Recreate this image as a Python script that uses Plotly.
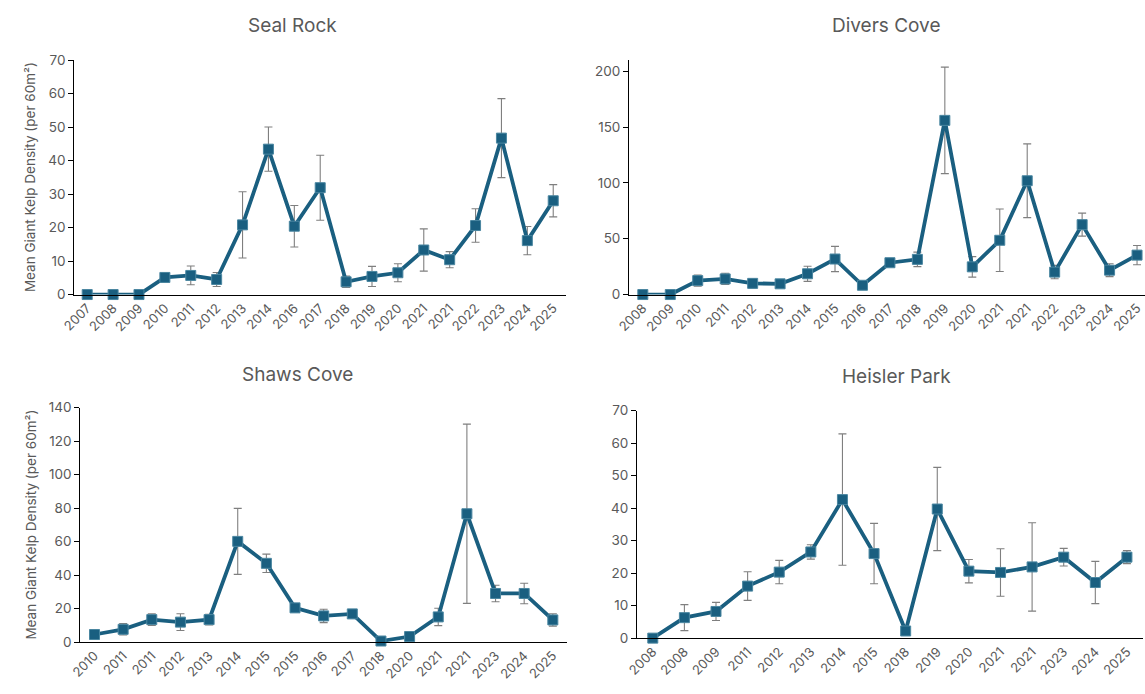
import plotly.graph_objects as go

# ---- Seal Rock ----
seal_years = ["2007", "2008", "2009", "2010", "2011", "2012", "2013", "2014", "2016", "2017",
              "2018", "2019", "2020", "2021", "2021", "2022", "2023", "2024", "2025"]
seal_mean = [0, 0, 0, 5.1, 5.7, 4.5, 20.8, 43.4, 20.4, 31.9,
             3.8, 5.4, 6.5, 13.3, 10.4, 20.6, 46.7, 16.1, 28.0]
seal_err = [0, 0, 0, 1.4, 2.8, 2.1, 9.9, 6.6, 6.2, 9.7,
            1.7, 3.0, 2.7, 6.3, 2.4, 5.0, 11.8, 4.2, 4.8]

# ---- Divers Cove ----
divers_years = ["2008", "2009", "2010", "2011", "2012", "2013", "2014", "2015", "2016", "2017",
                "2018", "2019", "2020", "2021", "2021", "2022", "2023", "2024", "2025"]
divers_mean = [0, 0, 12.5, 14.0, 10.0, 9.6, 18.6, 31.8, 8.3, 28.5,
               31.5, 156.0, 24.8, 48.6, 101.9, 20.1, 62.6, 21.8, 35.3]
divers_err = [0, 0, 5.0, 5.0, 4.0, 2.0, 6.8, 11.3, 1.0, 2.0,
              6.5, 47.7, 9.2, 28.0, 33.0, 6.0, 10.3, 5.8, 8.6]

# ---- Shaws Cove ----
shaws_years = ["2010", "2011", "2011", "2012", "2013", "2014", "2015", "2015", "2016", "2017",
               "2018", "2020", "2021", "2021", "2023", "2024", "2025"]
shaws_mean = [4.5, 7.6, 13.4, 11.9, 13.4, 60.1, 47.0, 20.4, 15.6, 16.8,
              0.6, 3.3, 15.0, 76.6, 29.0, 29.0, 13.2]
shaws_err = [2.7, 3.4, 3.5, 5.0, 3.2, 19.7, 5.5, 1.5, 4.0, 1.5,
             0.5, 1.5, 5.2, 53.5, 4.9, 6.1, 3.7]

# ---- Heisler Park ----
heisler_years = ["2008", "2008", "2009", "2011", "2012", "2013", "2014", "2015", "2018", "2019",
                 "2020", "2021", "2021", "2023", "2024", "2025"]
heisler_mean = [0, 6.3, 8.2, 16.0, 20.3, 26.5, 42.6, 26.0, 2.2, 39.7,
                20.6, 20.2, 21.9, 24.9, 17.1, 24.9]
heisler_err = [0, 4.0, 2.8, 4.4, 3.6, 2.2, 20.2, 9.3, 0.3, 12.8,
               3.6, 7.3, 13.6, 2.7, 6.5, 2.0]

LINE_COLOR = "#1a5f80"
TEXT_COLOR = "#595959"
FONT = "Inter, Roboto, sans-serif"
W, H = 1145, 694

panels = [
    # name, labels, means, errors, x-domain(px), y-domain(px top, bottom), y range, dtick, x range end
    ("Seal Rock", seal_years, seal_mean, seal_err, (61, 559), (53.3, 293.3), (0, 70), 10, None),
    ("Divers Cove", divers_years, divers_mean, divers_err, (622.7, 1145), (53.3, 293.3), (0, 210), 50, 18.29),
    ("Shaws Cove", shaws_years, shaws_mean, shaws_err, (67, 560), (409, 649), (0, 140), 20, None),
    ("Heisler Park", heisler_years, heisler_mean, heisler_err, (630.7, 1142.7), (412, 645), (0, 70), 10, None),
]
title_pos = [(282, 18), (883, 18), (287, 375), (893, 377)]

fig = go.Figure()
layout = dict(
    width=W, height=H,
    margin=dict(l=0, r=0, t=0, b=0),
    paper_bgcolor="white", plot_bgcolor="white",
    showlegend=False,
    font=dict(family=FONT, color=TEXT_COLOR),
)
annotations = []

for i, (name, labels, means, errs, xd, yd, yr, dtick, xend) in enumerate(panels):
    n = i + 1
    xa = "x" if n == 1 else f"x{n}"
    ya = "y" if n == 1 else f"y{n}"
    xs = list(range(len(labels)))
    fig.add_trace(go.Scatter(
        x=xs, y=means, xaxis=xa, yaxis=ya,
        mode="lines+markers",
        line=dict(color=LINE_COLOR, width=3.8),
        marker=dict(symbol="square", size=10, color=LINE_COLOR,
                    line=dict(color="#4a86a0", width=1)),
        error_y=dict(type="data", array=errs, visible=True,
                     color="#7f7f7f", thickness=1.1, width=4),
        cliponaxis=False,
    ))
    xkey = "xaxis" if n == 1 else f"xaxis{n}"
    ykey = "yaxis" if n == 1 else f"yaxis{n}"
    layout[xkey] = dict(
        domain=[xd[0] / W, xd[1] / W],
        anchor=ya,
        range=[-0.5, xend if xend is not None else len(labels) - 0.5],
        tickmode="array", tickvals=xs, ticktext=labels,
        tickangle=-45, ticks="",
        tickfont=dict(size=13, color=TEXT_COLOR, family=FONT),
        showline=True, linecolor="#000000", linewidth=1,
        showgrid=False, zeroline=False, fixedrange=True,
    )
    layout[ykey] = dict(
        domain=[1 - yd[1] / H, 1 - yd[0] / H],
        anchor=xa,
        range=list(yr), dtick=dtick, tick0=0,
        ticks="outside", ticklen=5, tickcolor="#000000",
        tickfont=dict(size=13.5, color=TEXT_COLOR, family=FONT),
        showline=True, linecolor="#000000", linewidth=1,
        showgrid=False, zeroline=False, fixedrange=True,
    )
    tx, ty = title_pos[i]
    annotations.append(dict(
        text=name, x=tx / W, y=1 - ty / H, xref="paper", yref="paper",
        xanchor="center", yanchor="middle", showarrow=False,
        font=dict(size=19, color=TEXT_COLOR, family=FONT),
    ))

# y-axis titles on the left-hand panels
for yd in [(53.3, 293.3), (409, 649)]:
    annotations.append(dict(
        text="Mean Giant Kelp Density (per 60m²)",
        x=17 / W, y=1 - (yd[0] + yd[1]) / 2 / H, xref="paper", yref="paper",
        xanchor="center", yanchor="middle", textangle=-90, showarrow=False,
        font=dict(size=13.5, color=TEXT_COLOR, family=FONT),
    ))

layout["annotations"] = annotations
fig.update_layout(**layout)
fig.write_html("out.html")
